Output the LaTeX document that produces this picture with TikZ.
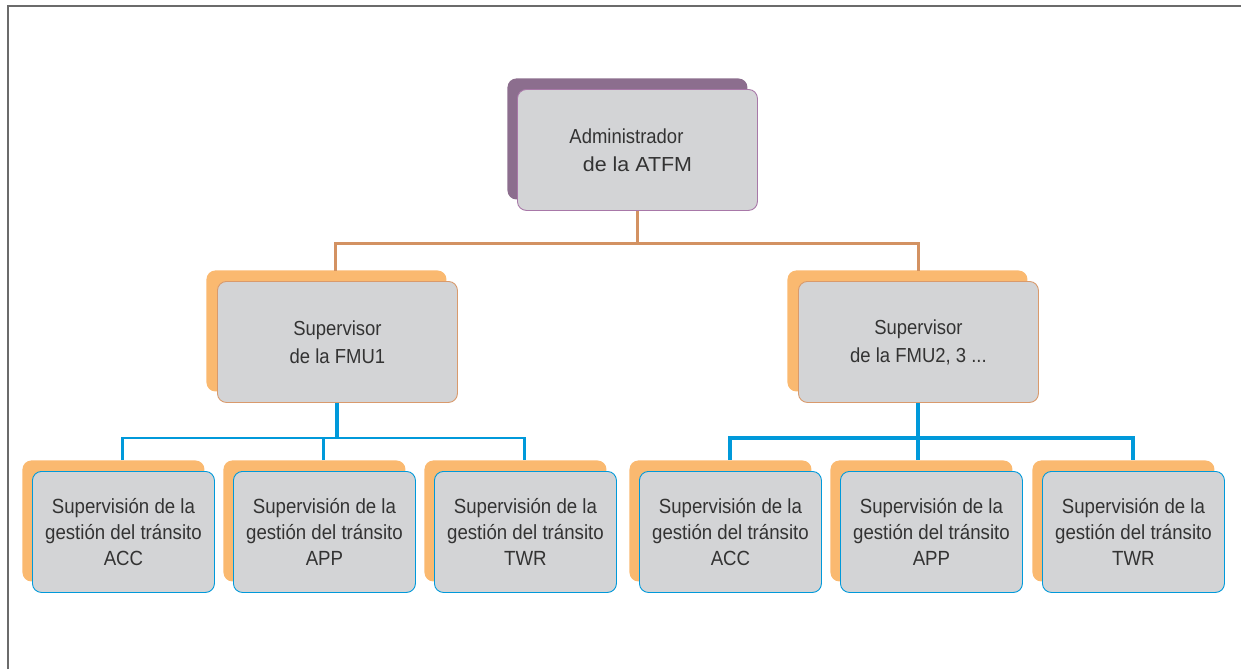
\documentclass[tikz,border=0pt]{standalone}
\usepackage{fontspec}
\setmainfont{Liberation Sans}[FakeStretch=0.91]
\usetikzlibrary{shadows,calc}

\definecolor{frameGray}{HTML}{6B6B6B}
\definecolor{boxGray}{HTML}{D3D4D6}
\definecolor{plum}{HTML}{8C6E8E}
\definecolor{plumEdge}{HTML}{A878A8}
\definecolor{apricot}{HTML}{FAB970}
\definecolor{apricotEdge}{HTML}{D99A6C}
\definecolor{linkBrown}{HTML}{D39262}
\definecolor{linkBlue}{HTML}{0099DA}
\definecolor{inkGray}{HTML}{333333}

\tikzset{
  x=1pt, y=-1pt,
  card/.style={rectangle, rounded corners=9pt, fill=boxGray, line width=0.9pt,
    anchor=north west, align=center, text=inkGray, inner sep=0pt,
    font=\fontsize{20.3}{28}\selectfont},
  adminbox/.style={card, draw=plumEdge, minimum width=240pt, minimum height=121pt,
    general shadow={shadow xshift=-10pt, shadow yshift=11pt, fill=plum, draw=none}},
  supbox/.style={card, draw=apricotEdge, minimum width=240pt, minimum height=121pt,
    general shadow={shadow xshift=-11pt, shadow yshift=11pt, fill=apricot, draw=none}},
  unitbox/.style={card, draw=linkBlue, minimum width=182pt, minimum height=121pt,
    font=\fontsize{20.5}{26}\selectfont,
    general shadow={shadow xshift=-10pt, shadow yshift=11pt, fill=apricot, draw=none}},
  brownlink/.style={draw=linkBrown, line width=3pt},
  bluethin/.style={draw=linkBlue, line width=2.6pt},
  bluethick/.style={draw=linkBlue, line width=4pt},
}

\begin{document}
\begin{tikzpicture}
\useasboundingbox (0,0) rectangle (1241,669);

% outer frame, open on the right and bottom
\draw[frameGray, line width=2pt] (7.5,669) -- (7.5,6) -- (1241,6);

% boxes
\node[adminbox] (admin) at (517,89)
  {Administrador\hspace*{22pt}\\\scalebox{1.16}[1]{de la ATFM}};
\node[supbox] (sup1) at (217,281) {Supervisor\\de la FMU1};
\node[supbox] (sup2) at (798,281) {Supervisor\\de la FMU2, 3 ...};

\node[unitbox] (u1) at (32,471)  {Supervisión de la\\gestión del tránsito\\ACC};
\node[unitbox] (u2) at (233,471) {Supervisión de la\\gestión del tránsito\\APP};
\node[unitbox] (u3) at (434,471) {Supervisión de la\\gestión del tránsito\\TWR};
\node[unitbox] (u4) at (639,471) {Supervisión de la\\gestión del tránsito\\ACC};
\node[unitbox] (u5) at (840,471) {Supervisión de la\\gestión del tránsito\\APP};
\node[unitbox] (u6) at (1042,471){Supervisión de la\\gestión del tránsito\\TWR};

% connectors: administrator to supervisors
\coordinate (topBus) at ($(admin.south)+(0,33)$);
\draw[brownlink] (admin.south) -- (topBus) -| ([xshift=-2pt,yshift=10pt]sup1.north);
\draw[brownlink] (topBus) -| ([yshift=10pt]sup2.north);

% connectors: FMU1 to its units
\coordinate (busL) at ($(sup1.south)+(0,35)$);
\draw[bluethin] ([xshift=-1pt,yshift=11pt]u1.north) |- (busL) -| ([xshift=-1pt,yshift=11pt]u3.north);
\draw[bluethin] ([xshift=-1pt,yshift=11pt]u2.north) -- ([xshift=-1pt]u2.north |- busL);
\draw[bluethick] (sup1.south) -- (busL);

% connectors: FMU2, 3 ... to its units
\coordinate (busR) at ($(sup2.south)+(0,35)$);
\draw[bluethick] ([yshift=11pt]u4.north) |- (busR) -| ([yshift=11pt]u6.north);
\draw[bluethick] (sup2.south) -- ($(sup2.south |- u5.north)+(0,-11)$);
\end{tikzpicture}
\end{document}
